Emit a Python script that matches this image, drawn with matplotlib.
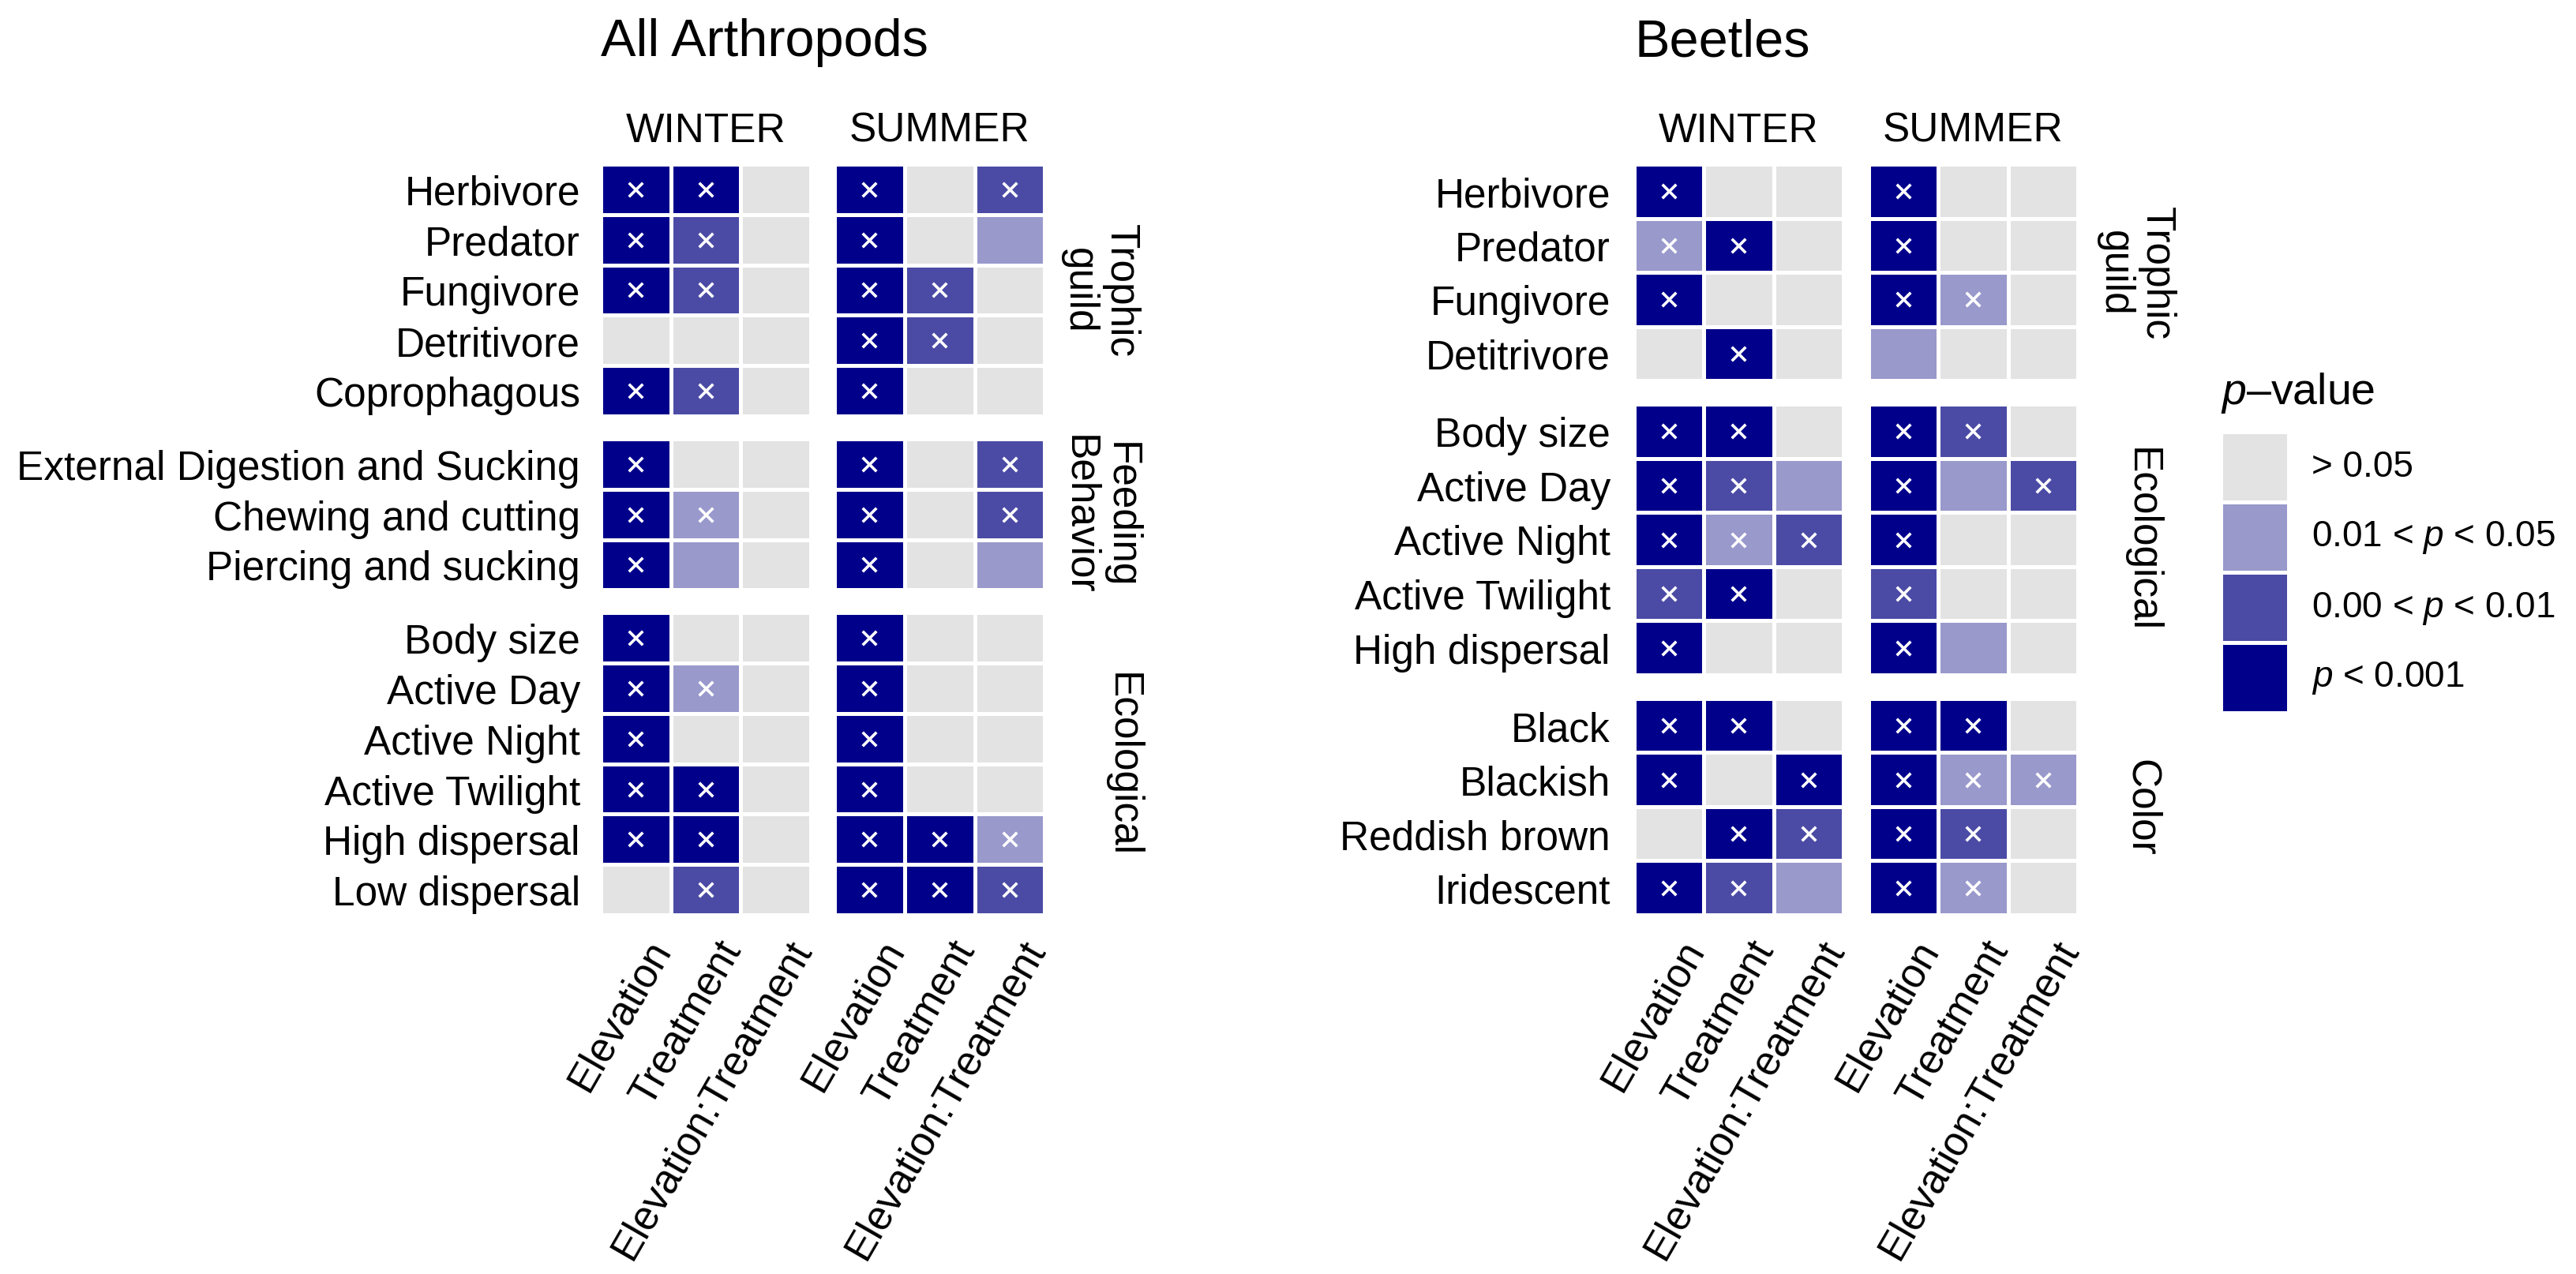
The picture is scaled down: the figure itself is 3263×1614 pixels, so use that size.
import matplotlib
matplotlib.use("Agg")
import numpy as np
import matplotlib.pyplot as plt
from matplotlib.colors import ListedColormap, BoundaryNorm
from matplotlib.transforms import ScaledTranslation

plt.rcParams["font.family"] = ["Liberation Sans", "DejaVu Sans"]
plt.rcParams["mathtext.fontset"] = "custom"
plt.rcParams["mathtext.rm"] = "Liberation Sans"
plt.rcParams["mathtext.it"] = "Liberation Sans:italic"

W, H, DPI = 3263, 1615, 200

# p-value classes: 0 = >0.05, 1 = 0.01-0.05, 2 = 0.00-0.01, 3 = <0.001
LEVEL_COLORS = ["#E3E3E3", "#9999CC", "#4B4BA6", "#00008B"]
LEVEL_LABELS = ["> 0.05", "0.01 < $p$ < 0.05", "0.00 < $p$ < 0.01", "$p$ < 0.001"]
SEASONS = ["WINTER", "SUMMER"]
TERMS = ["Elevation", "Treatment", "Elevation:Treatment"]

# ---- All Arthropods ----
arth_traits = ["Herbivore", "Predator", "Fungivore", "Detritivore", "Coprophagous",
               "External Digestion and Sucking", "Chewing and cutting", "Piercing and sucking",
               "Body size", "Active Day", "Active Night", "Active Twilight",
               "High dispersal", "Low dispersal"]
arth_group_names = ["Trophic\nguild", "Feeding\nBehavior", "Ecological"]
arth_group_sizes = [5, 3, 6]
arth_winter = [[3, 3, 0], [3, 2, 0], [3, 2, 0], [0, 0, 0], [3, 2, 0],
               [3, 0, 0], [3, 1, 0], [3, 1, 0],
               [3, 0, 0], [3, 1, 0], [3, 0, 0], [3, 3, 0], [3, 3, 0], [0, 2, 0]]
arth_summer = [[3, 0, 2], [3, 0, 1], [3, 2, 0], [3, 2, 0], [3, 0, 0],
               [3, 0, 2], [3, 0, 2], [3, 0, 1],
               [3, 0, 0], [3, 0, 0], [3, 0, 0], [3, 0, 0], [3, 3, 1], [3, 3, 2]]
arth_winter_x = [[1, 1, 0], [1, 1, 0], [1, 1, 0], [0, 0, 0], [1, 1, 0],
                 [1, 0, 0], [1, 1, 0], [1, 0, 0],
                 [1, 0, 0], [1, 1, 0], [1, 0, 0], [1, 1, 0], [1, 1, 0], [0, 1, 0]]
arth_summer_x = [[1, 0, 1], [1, 0, 0], [1, 1, 0], [1, 1, 0], [1, 0, 0],
                 [1, 0, 1], [1, 0, 1], [1, 0, 0],
                 [1, 0, 0], [1, 0, 0], [1, 0, 0], [1, 0, 0], [1, 1, 1], [1, 1, 1]]

# ---- Beetles ----
beet_traits = ["Herbivore", "Predator", "Fungivore", "Detitrivore",
               "Body size", "Active Day", "Active Night", "Active Twilight", "High dispersal",
               "Black", "Blackish", "Reddish brown", "Iridescent"]
beet_group_names = ["Trophic\nguild", "Ecological", "Color"]
beet_group_sizes = [4, 5, 4]
beet_winter = [[3, 0, 0], [1, 3, 0], [3, 0, 0], [0, 3, 0],
               [3, 3, 0], [3, 2, 1], [3, 1, 2], [2, 3, 0], [3, 0, 0],
               [3, 3, 0], [3, 0, 3], [0, 3, 2], [3, 2, 1]]
beet_summer = [[3, 0, 0], [3, 0, 0], [3, 1, 0], [1, 0, 0],
               [3, 2, 0], [3, 1, 2], [3, 0, 0], [2, 0, 0], [3, 1, 0],
               [3, 3, 0], [3, 1, 1], [3, 2, 0], [3, 1, 0]]
beet_winter_x = [[1, 0, 0], [1, 1, 0], [1, 0, 0], [0, 1, 0],
                 [1, 1, 0], [1, 1, 0], [1, 1, 1], [1, 1, 0], [1, 0, 0],
                 [1, 1, 0], [1, 0, 1], [0, 1, 1], [1, 1, 0]]
beet_summer_x = [[1, 0, 0], [1, 0, 0], [1, 1, 0], [0, 0, 0],
                 [1, 1, 0], [1, 0, 1], [1, 0, 0], [1, 0, 0], [1, 0, 0],
                 [1, 1, 0], [1, 1, 1], [1, 1, 0], [1, 1, 0]]

CMAP = ListedColormap(LEVEL_COLORS)
NORM = BoundaryNorm(np.arange(-0.5, 4.5, 1), CMAP.N)
FS = 18.5


def draw_panel(fig, title, traits, group_names, group_sizes, seasons_lv, seasons_x,
               x0, col_w, season_gap, y0, y1, group_gap, label_pad, strip_x, strip_x2):
    n_rows = len(traits)
    row_h = (y1 - y0 - group_gap * (len(group_sizes) - 1)) / n_rows
    block_w = 3 * col_w
    fig.text(x0 / W, 1 - 71 / H, title, fontsize=24, ha="left", va="baseline")

    r0 = 0
    for gi, (gname, n) in enumerate(zip(group_names, group_sizes)):
        top = y0 + r0 * row_h + gi * group_gap
        height = n * row_h
        for si, season in enumerate(SEASONS):
            left = x0 + si * (block_w + season_gap)
            ax = fig.add_axes([left / W, 1 - (top + height) / H, block_w / W, height / H])
            lv = np.array(seasons_lv[si][r0:r0 + n])
            mk = np.array(seasons_x[si][r0:r0 + n])
            ax.pcolormesh(lv, cmap=CMAP, norm=NORM, edgecolors="white", linewidth=1.2)
            rr, cc = np.nonzero(mk)
            ax.scatter(cc + 0.5, rr + 0.5, marker="x", c="white", s=40, linewidths=1.3, zorder=3)
            ax.set_xlim(0, 3)
            ax.set_ylim(n, 0)
            for sp in ax.spines.values():
                sp.set_visible(False)
            ax.set_xticks([])
            if si == 0:
                ax.set_yticks(np.arange(n) + 0.5)
                ax.set_yticklabels(traits[r0:r0 + n], fontsize=FS)
                ax.tick_params(axis="y", length=0, pad=label_pad)
            else:
                ax.set_yticks([])
            if gi == 0:
                fig.text((left + block_w / 2) / W, 1 - 180 / H, season,
                         fontsize=FS, ha="center", va="baseline")
            if gi == len(group_sizes) - 1:
                off = ax.transData + ScaledTranslation(12 / DPI, -23 / DPI, fig.dpi_scale_trans)
                for ci, term in enumerate(TERMS):
                    ax.text(ci + 0.5, n, term, transform=off, rotation=60,
                            rotation_mode="anchor", ha="right", va="top", fontsize=FS)
        sx = strip_x2 if "\n" in gname else strip_x
        fig.text(sx / W, 1 - (top + height / 2) / H, gname, rotation=270,
                 fontsize=FS, ha="center", va="center", multialignment="center",
                 linespacing=1.1)
        r0 += n


def main():
    fig = plt.figure(figsize=(W / DPI, H / DPI), dpi=DPI)

    draw_panel(fig, "All Arthropods", arth_traits, arth_group_names, arth_group_sizes,
               [arth_winter, arth_summer], [arth_winter_x, arth_summer_x],
               x0=761, col_w=88.7, season_gap=30, y0=209, y1=1160, group_gap=29,
               label_pad=9.4, strip_x=1421, strip_x2=1393)
    draw_panel(fig, "Beetles", beet_traits, beet_group_names, beet_group_sizes,
               [beet_winter, beet_summer], [beet_winter_x, beet_summer_x],
               x0=2070, col_w=88.3, season_gap=32, y0=209, y1=1160, group_gap=30,
               label_pad=10.8, strip_x=2712, strip_x2=2705)

    # legend
    fig.text(2813 / W, 1 - 512 / H, "$p$\u2013value", fontsize=20, ha="left", va="baseline")
    key_top, key_h = 548, 89
    lax = fig.add_axes([2813 / W, 1 - (key_top + 4 * key_h) / H, 86 / W, 4 * key_h / H])
    lax.pcolormesh(np.arange(len(LEVEL_COLORS)).reshape(-1, 1), cmap=CMAP, norm=NORM,
                   edgecolors="white", linewidth=1.8)
    lax.set_xlim(0, 1)
    lax.set_ylim(len(LEVEL_COLORS), 0)
    lax.axis("off")
    for i, lab in enumerate(LEVEL_LABELS):
        fig.text(2928 / W, 1 - (key_top + (i + 0.5) * key_h) / H, lab,
                 fontsize=16.5, ha="left", va="center")

    fig.savefig("out.png", dpi=DPI)


if __name__ == "__main__":
    main()
